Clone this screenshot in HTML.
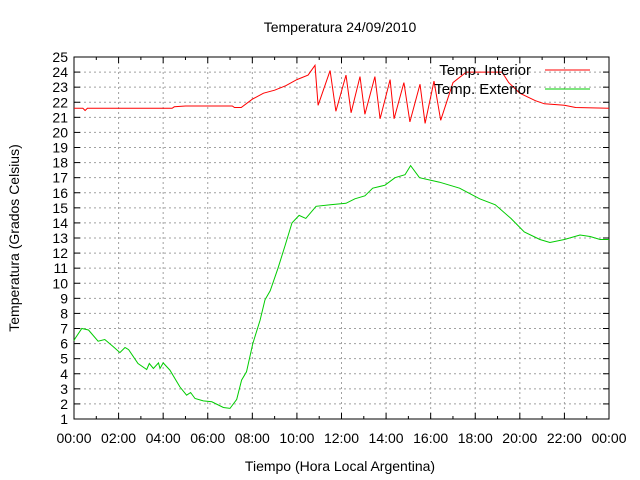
<!DOCTYPE html>
<html><head><meta charset="utf-8"><style>
body{margin:0;background:#fff}
svg{display:block;font-family:"Liberation Sans",sans-serif}
</style></head><body>
<svg id="chart" width="640" height="480">
<rect width="640" height="480" fill="#fff"/>
<g id="grid"></g>
<g id="axes"></g>
<g id="series"></g>
<text x="340" y="32" font-size="14" text-anchor="middle">Temperatura 24/09/2010</text>
<text x="340" y="471" font-size="14" text-anchor="middle">Tiempo (Hora Local Argentina)</text>
<text transform="translate(19,238) rotate(-90)" font-size="14" text-anchor="middle">Temperatura (Grados Celsius)</text>
<g>
<g>
<text x="531" y="75" font-size="15" text-anchor="end">Temp. Interior</text>
<line x1="545" y1="70" x2="590" y2="70" stroke="#f00" stroke-width="1"/></g>
<g>
<text x="531" y="94" font-size="15" text-anchor="end">Temp. Exterior</text>
<line x1="545" y1="89" x2="590" y2="89" stroke="#0c0" stroke-width="1"/></g>
</g>
</svg>
<script>
const xTicks=["00:00","02:00","04:00","06:00","08:00","10:00","12:00","14:00","16:00","18:00","20:00","22:00","00:00"];
const yTicks=[1,2,3,4,5,6,7,8,9,10,11,12,13,14,15,16,17,18,19,20,21,22,23,24,25];
const interiorHours=[0,0.4,0.5,0.6,4.4,4.5,5,7.1,7.2,7.5,8,8.5,9,9.5,10,10.5,10.81,10.95,11.49,11.75,12.2,12.43,12.83,13.05,13.5,13.73,14.18,14.36,14.8,15.07,15.52,15.75,16.15,16.45,17.0,17.6,19.2,19.5,20.0,20.7,21.1,22.0,22.5,24];
const interiorTemp=[21.6,21.6,21.45,21.6,21.6,21.7,21.75,21.75,21.65,21.65,22.2,22.6,22.8,23.1,23.5,23.8,24.45,21.8,24.1,21.4,23.8,21.3,23.7,21.2,23.7,20.9,23.5,20.9,23.3,20.7,23.2,20.6,23.4,20.8,23.3,24.0,24.0,23.3,22.6,22.1,21.9,21.8,21.65,21.6];
const exteriorHours=[0,0.05,0.35,0.65,1.08,1.38,1.76,2.06,2.29,2.45,2.87,3.26,3.38,3.56,3.79,3.86,4.0,4.3,4.75,5.05,5.23,5.43,5.8,6.18,6.7,7.0,7.3,7.52,7.74,8.02,8.35,8.57,8.8,9.15,9.47,9.78,10.1,10.4,10.86,11.5,12.2,12.6,13.05,13.4,13.95,14.4,14.85,15.1,15.5,16.4,17.3,18.2,18.9,19.6,20.2,20.9,21.35,22.0,22.7,23.15,23.6,24];
const exteriorTemp=[6.2,6.34,7.0,6.9,6.16,6.27,5.8,5.4,5.74,5.6,4.68,4.28,4.68,4.35,4.72,4.35,4.72,4.24,3.13,2.58,2.76,2.36,2.2,2.14,1.76,1.7,2.3,3.58,4.13,6.0,7.56,8.9,9.5,11,12.5,14,14.5,14.3,15.1,15.2,15.3,15.6,15.8,16.3,16.5,17,17.2,17.8,17,16.7,16.3,15.6,15.2,14.3,13.4,12.9,12.7,12.9,13.2,13.1,12.9,12.9];
const L=74,R=609,T=57,B=419,NS="http://www.w3.org/2000/svg";
const xs=h=>L+(R-L)*h/24, ys=v=>B-(B-T)*(v-1)/24;
function mk(tag,attrs,parent){const e=document.createElementNS(NS,tag);for(const k in attrs)e.setAttribute(k,attrs[k]);parent.appendChild(e);return e;}
const grid=document.getElementById('grid'),axes=document.getElementById('axes'),series=document.getElementById('series');
yTicks.forEach((v,i)=>{
  const y=ys(v);
  if(i>0&&i<yTicks.length-1){const g=mk('line',{x1:L,x2:R,y1:y,y2:y,stroke:'#a0a0a0','stroke-dasharray':'2,3'},grid);
  
  }
  mk('line',{x1:L,x2:L+6,y1:y,y2:y,stroke:'#000'},axes);
  mk('line',{x1:R,x2:R-6,y1:y,y2:y,stroke:'#000'},axes);
  const t=mk('text',{x:L-6,y:y+5,'font-size':'14','text-anchor':'end'},axes);t.textContent=v;
  
  
});
xTicks.forEach((lab,i)=>{
  const x=xs(i*2);
  if(i>0&&i<xTicks.length-1){const g=mk('line',{x1:x,x2:x,y1:T,y2:B,stroke:'#a0a0a0','stroke-dasharray':'2,3'},grid);
  
  }
  mk('line',{x1:x,x2:x,y1:B,y2:B-6,stroke:'#000'},axes);
  mk('line',{x1:x,x2:x,y1:T,y2:T+6,stroke:'#000'},axes);
  if(i<xTicks.length-1){const xm=xs(i*2+1);mk('line',{x1:xm,x2:xm,y1:B,y2:B-3,stroke:'#000'},axes);mk('line',{x1:xm,x2:xm,y1:T,y2:T+3,stroke:'#000'},axes);}
  const t=mk('text',{x:x,y:B+24,'font-size':'14','text-anchor':'middle'},axes);t.textContent=lab;
  
  
});
const frame=mk('rect',{x:L,y:T,width:R-L,height:B-T,fill:'none',stroke:'#000'},axes);


function line(hs,vs,color,name){
  const p=mk('polyline',{points:hs.map((h,i)=>xs(h).toFixed(1)+','+ys(vs[i]).toFixed(1)).join(' '),fill:'none',stroke:color,'stroke-width':'1'},series);
  
  
}
line(interiorHours,interiorTemp,'#f00','interior-temp-line');
line(exteriorHours,exteriorTemp,'#0c0','exterior-temp-line');
</script>
</body></html>
